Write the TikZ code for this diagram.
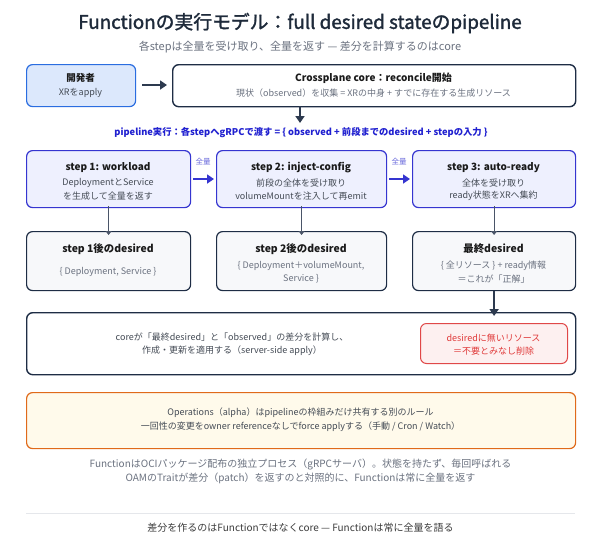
\documentclass[tikz,border=0pt]{standalone}
\usepackage{fontspec}
\setmainfont{Noto Sans CJK JP}
\newfontfamily\semib[FakeBold=1.6]{Noto Sans CJK JP}
\usetikzlibrary{arrows.meta}
\definecolor{navy}{HTML}{1E2A3A}
\definecolor{subgray}{HTML}{6B7280}
\definecolor{devfill}{HTML}{DCE8FC}
\definecolor{devline}{HTML}{2A6DE0}
\definecolor{coreline}{HTML}{1E2D45}
\definecolor{arrnavy}{HTML}{2D3A4F}
\definecolor{pipeblue}{HTML}{2020D0}
\definecolor{stepfill}{HTML}{EEF0FE}
\definecolor{stepline}{HTML}{3535D0}
\definecolor{smallarr}{HTML}{4A5568}
\definecolor{desfill}{HTML}{F7F8FA}
\definecolor{redfill}{HTML}{FDF0F0}
\definecolor{redline}{HTML}{E04848}
\definecolor{redtext}{HTML}{E03A3A}
\definecolor{opsfill}{HTML}{FFFAEB}
\definecolor{opsline}{HTML}{E06A1A}
\definecolor{sepgray}{HTML}{E5E7EB}
\definecolor{txtdark}{HTML}{1A1A1A}
\definecolor{txtbody}{HTML}{444B55}
\begin{document}
\begin{tikzpicture}[x=1pt,y=-1pt,
  panel/.style={draw, rounded corners=6pt, line width=1.2pt, anchor=north west, inner sep=0pt},
  devbox/.style={panel, fill=devfill, draw=devline},
  corebox/.style={panel, fill=white, draw=coreline, line width=1.4pt},
  stepbox/.style={panel, fill=stepfill, draw=stepline},
  desbox/.style={panel, fill=desfill, draw=coreline},
  redbox/.style={panel, fill=redfill, draw=redline, line width=1pt},
  opsbox/.style={panel, fill=opsfill, draw=opsline},
  ttl/.style={font=\bfseries\fontsize{10}{12}\selectfont, text=txtdark, inner sep=0pt},
  body/.style={font=\fontsize{9}{11}\selectfont, text=txtbody, inner sep=0pt},
  bigarrow/.style={draw=arrnavy, line width=2pt, -{Triangle[length=7pt,width=9pt]}},
  steparrow/.style={draw=stepline, line width=2pt, -{Triangle[length=7pt,width=9pt]}},
  thinarrow/.style={draw=smallarr, line width=0.9pt, -{Triangle[length=4pt,width=6pt]}},
  lbl/.style={font=\fontsize{7.5}{9}\selectfont, text=stepline!75, inner sep=0pt}
]
\useasboundingbox (0,0) rectangle (600,542);
\fill[white] (0,0) rectangle (600,542);

% title
\node[font=\semib\fontsize{18.8}{22}\selectfont, text=navy, inner sep=0pt] (title) at (300,23) {Functionの実行モデル：full desired stateのpipeline};
\node[font=\fontsize{11}{13}\selectfont, text=subgray, inner sep=0pt] (subtitle) at (300,47) {各stepは全量を受け取り、全量を返す — 差分を計算するのはcore};

% top row
\node[devbox, minimum width=109pt, minimum height=42pt] (dev) at (26,64) {};
\node[ttl, font=\bfseries\fontsize{9.5}{11}\selectfont] (devT) at (80.5,78) {開発者};
\node[body] (devB) at (80.5,93) {XRをapply};

\node[corebox, minimum width=403pt, minimum height=42pt] (core) at (172,64) {};
\node[ttl] (coreT) at (373.5,78) {Crossplane core：reconcile開始};
\node[body, text=subgray] (coreB) at (373.5,93) {現状（observed）を収集 = XRの中身 + すでに存在する生成リソース};

\draw[bigarrow] (dev.east |- 0,85) ++(6,0) -- ([xshift=-5pt]core.west |- 0,85);

\coordinate (coreDown) at (300,106);
\coordinate (pipeTop) at (300,123);
\draw[bigarrow] (coreDown) -- (pipeTop);

\node[font=\bfseries\fontsize{9.3}{11}\selectfont, text=pipeblue, inner sep=0pt] (pipe) at (301,133) {pipeline実行：各stepへgRPCで渡す = \{ observed + 前段までのdesired + stepの入力 \}};

% steps
\node[stepbox, minimum width=164pt, minimum height=57pt] (s1) at (26,150) {};
\node[stepbox, minimum width=170pt, minimum height=57pt] (s2) at (216,150) {};
\node[stepbox, minimum width=163pt, minimum height=57pt] (s3) at (412,150) {};

\node[ttl] (s1T) at (108,168) {step 1: workload};
\node[body] (s1a) at (108,183) {DeploymentとService};
\node[body] (s1b) at (108,196) {を生成して全量を返す};

\node[ttl] (s2T) at (301,168) {step 2: inject-config};
\node[body] (s2a) at (301,183) {前段の全体を受け取り};
\node[body] (s2b) at (301,196) {volumeMountを注入して再emit};

\node[ttl] (s3T) at (493.5,168) {step 3: auto-ready};
\node[body] (s3a) at (493.5,183) {全体を受け取り};
\node[body] (s3b) at (493.5,196) {ready状態をXRへ集約};

\draw[steparrow] ([xshift=2pt]s1.east |- 0,179) -- ([xshift=-2pt]s2.west |- 0,179);
\draw[steparrow] ([xshift=2pt]s2.east |- 0,179) -- ([xshift=-2pt]s3.west |- 0,179);
\node[lbl] (q1) at (203,162) {全量};
\node[lbl] (q2) at (399,162) {全量};

% desired boxes
\node[desbox, minimum width=164pt, minimum height=59pt] (d1) at (26,231) {};
\node[desbox, minimum width=170pt, minimum height=59pt] (d2) at (216,231) {};
\node[desbox, minimum width=163pt, minimum height=59pt] (d3) at (412,231) {};

\draw[thinarrow] ([yshift=2pt]s1.south) -- ([yshift=-4pt]d1.north);
\draw[thinarrow] ([yshift=2pt]s2.south) -- ([yshift=-4pt]d2.north);
\draw[thinarrow] ([yshift=2pt]s3.south) -- ([yshift=-4pt]d3.north);

\node[ttl, font=\bfseries\fontsize{10.4}{12}\selectfont] (d1T) at (108,249) {step 1後のdesired};
\node[body, text=subgray] (d1a) at (108,272) {\{ Deployment, Service \}};

\node[ttl, font=\bfseries\fontsize{10.4}{12}\selectfont] (d2T) at (301,249) {step 2後のdesired};
\node[body, text=subgray] (d2a) at (301,266) {\{ Deployment＋volumeMount,};
\node[body, text=subgray] (d2b) at (301,279) {Service \}};

\node[ttl, font=\bfseries\fontsize{10.4}{12}\selectfont] (d3T) at (493.5,249) {最終desired};
\node[body, text=subgray] (d3a) at (493.5,266) {\{ 全リソース \} + ready情報};
\node[body, text=subgray] (d3b) at (493.5,279) {＝これが「正解」};

% diff box
\node[corebox, minimum width=549pt, minimum height=62pt] (diff) at (26,312) {};
\draw[bigarrow] (d3.south) -- ([yshift=-4pt]diff.north -| d3.south);
\node[body] (diffa) at (232,337) {coreが「最終desired」と「observed」の差分を計算し、};
\node[body] (diffb) at (232,351) {作成・更新を適用する（server-side apply）};

\node[redbox, minimum width=147pt, minimum height=40pt] (red) at (420,323) {};
\node[body, text=redtext] (reda) at (493.5,338) {desiredに無いリソース};
\node[body, text=redtext] (redb) at (493.5,351) {＝不要とみなし削除};

% operations box
\node[opsbox, minimum width=549pt, minimum height=56pt] (ops) at (26,392) {};
\node[body] (opsa) at (300.5,413) {Operations（alpha）はpipelineの枠組みだけ共有する別のルール};
\node[body] (opsb) at (300.5,427) {一回性の変更をowner referenceなしでforce applyする（手動 / Cron / Watch）};

% footnote
\node[body, font=\fontsize{10}{12}\selectfont, text=subgray] (fn1) at (300.5,464) {FunctionはOCIパッケージ配布の独立プロセス（gRPCサーバ）。状態を持たず、毎回呼ばれる};
\node[body, font=\fontsize{10}{12}\selectfont, text=subgray] (fn2) at (300.5,478) {OAMのTraitが差分（patch）を返すのと対照的に、Functionは常に全量を返す};

\coordinate (sepL) at (26,513);
\coordinate (sepR) at (575,513);
\draw[sepgray, line width=1pt] (sepL) -- (sepR);

\node[font=\fontsize{10}{12}\selectfont, text=txtdark!85, inner sep=0pt] (bottom) at (300.5,528) {差分を作るのはFunctionではなくcore — Functionは常に全量を語る};
\end{tikzpicture}
\end{document}
